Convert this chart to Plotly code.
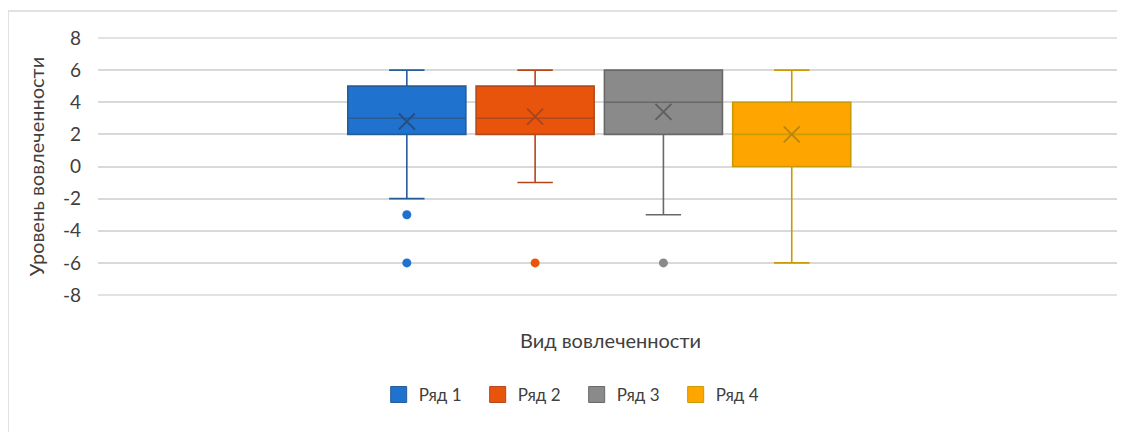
import plotly.graph_objects as go

# ---- data ----
series_names = ["Ряд 1", "Ряд 2", "Ряд 3", "Ряд 4"]
q1_vals = [2, 2, 2, 0]
median_vals = [3, 3, 4, 2]
q3_vals = [5, 5, 6, 4]
lower_whisker = [-2, -1, -3, -6]
upper_whisker = [6, 6, 6, 6]
mean_vals = [2.8, 3.1, 3.4, 2.0]
outlier_vals = [[-3, -6], [-6], [-6], []]

y_tick_vals = [-8, -6, -4, -2, 0, 2, 4, 6, 8]
y_tick_text = ["-8", "-6", "-4", "-2", "0", "2", "4", "6", "8"]
x_title = "Вид вовлеченности"
y_title = "Уровень вовлеченности"

# ---- styles ----
fill_colors = ["#1F72CE", "#E8540C", "#8A8A8A", "#FFA500"]
line_colors = ["#275C99", "#B5471A", "#686868", "#C99A05"]
mean_colors = ["#244F85", "#A9451C", "#5E5E5E", "#B8860B"]
FONT = "Lato, 'Open Sans', sans-serif"
TEXT_COLOR = "#404040"
GRID_COLOR = "#D9D9D9"

fig = go.Figure()
for i, name in enumerate(series_names):
    fig.add_trace(go.Box(
        x=[i], q1=[q1_vals[i]], median=[median_vals[i]], q3=[q3_vals[i]],
        lowerfence=[lower_whisker[i]], upperfence=[upper_whisker[i]],
        name=name, fillcolor=fill_colors[i],
        line=dict(color=line_colors[i], width=1.6),
        width=0.92, whiskerwidth=0.3, boxpoints=False,
        legendgroup=name, showlegend=False, hoverinfo="skip",
    ))
    # legend entry (square swatch)
    fig.add_trace(go.Scatter(
        x=[None], y=[None], mode="markers", name=name,
        marker=dict(symbol="square", size=16, color=fill_colors[i],
                    line=dict(color=line_colors[i], width=1)),
        legendgroup=name, showlegend=True, hoverinfo="skip",
    ))
    # mean marker (X)
    fig.add_trace(go.Scatter(
        x=[i], y=[mean_vals[i]], mode="markers",
        marker=dict(symbol="x-thin", size=16,
                    line=dict(color=mean_colors[i], width=1.8)),
        legendgroup=name, showlegend=False, hoverinfo="skip",
    ))
    if outlier_vals[i]:
        fig.add_trace(go.Scatter(
            x=[i] * len(outlier_vals[i]), y=outlier_vals[i], mode="markers",
            marker=dict(symbol="circle", size=9, color=fill_colors[i]),
            legendgroup=name, showlegend=False, hoverinfo="skip",
        ))

# gridlines at the two range ends (plotly omits them at the edges)
for yv in (y_tick_vals[0], y_tick_vals[-1]):
    fig.add_shape(type="line", xref="paper", yref="y", x0=0, x1=1, y0=yv, y1=yv,
                  line=dict(color=GRID_COLOR, width=1.5), layer="below")

# outer chart border (light gray frame)
fig.add_shape(type="rect", xref="paper", yref="paper",
              x0=-0.0878, x1=1.2, y0=-0.7, y1=1.100,
              line=dict(color=GRID_COLOR, width=1.5), fillcolor="rgba(0,0,0,0)",
              layer="below")

fig.update_layout(
    width=1117, height=424,
    margin=dict(l=90, r=2, t=29, b=136),
    paper_bgcolor="white", plot_bgcolor="white",
    boxmode="overlay",
    font=dict(family=FONT, color=TEXT_COLOR, size=16),
    xaxis=dict(
        range=[-2.407, 5.582], showticklabels=False, showgrid=False,
        zeroline=False, showline=False, fixedrange=True,
        title=dict(text=x_title, standoff=37, font=dict(size=20, color=TEXT_COLOR)),
    ),
    yaxis=dict(
        range=[-8.06, 8.06], tickvals=y_tick_vals, ticktext=y_tick_text,
        showgrid=True, gridcolor=GRID_COLOR, gridwidth=1.5,
        zeroline=False, showline=False,
        ticklabelstandoff=16, tickfont=dict(size=19, color=TEXT_COLOR),
        title=dict(text=y_title, standoff=12, font=dict(size=20, color=TEXT_COLOR)),
    ),
    legend=dict(orientation="h", x=0.467, xanchor="center", y=-0.382,
                yanchor="middle", font=dict(size=17, color=TEXT_COLOR),
                itemwidth=30, entrywidth=54),
)

fig.write_html("out.html")
